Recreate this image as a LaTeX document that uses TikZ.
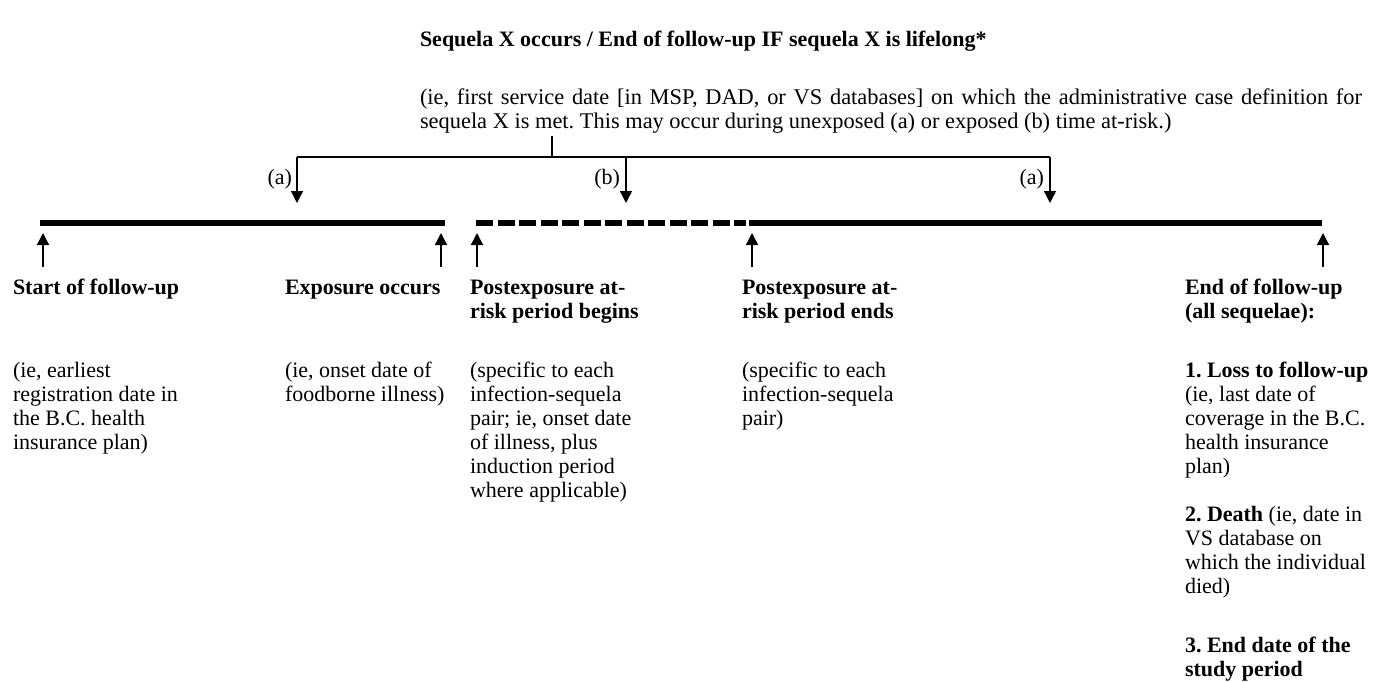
\documentclass[tikz,border=0pt]{standalone}
\usepackage{fontspec}
\setmainfont{Liberation Serif}
\usetikzlibrary{arrows.meta}
\frenchspacing
\begin{document}
\begin{tikzpicture}[x=1pt,y=-1pt,
  txt/.style={anchor=north west,yshift=16.8pt,inner sep=0pt,outer sep=0pt,align=left,font=\fontsize{22}{24}\selectfont},
  hd/.style={txt,font=\fontsize{22}{24}\selectfont\bfseries},
  lab/.style={anchor=base east,inner sep=0pt,outer sep=0pt,font=\fontsize{22}{24}\selectfont},
  thinline/.style={line width=1.4pt},
  arr/.style={thinline,-{Triangle[width=12pt,length=12pt]}},
  bar/.style={line width=5.5pt,line cap=butt}]
\useasboundingbox (0,0) rectangle (1378,681);
% top text
\node[hd] (title) at (420,46) {\strut Sequela X occurs / End of follow-up IF sequela X is lifelong*};
\node[txt,font=\fontsize{22.4}{24}\selectfont] (expl) at (420,104) {\strut\makebox[942pt][s]{(ie, first service date [in MSP, DAD, or VS databases] on which the administrative case definition for}\\sequela X is met. This may occur during unexposed (a) or exposed (b) time at-risk.)};
% branching
\coordinate (stemtop) at (552,136);
\coordinate (stembot) at (552,157);
\coordinate (brl) at (297,157);
\coordinate (brm) at (626,157);
\coordinate (brr) at (1050,157);
\coordinate (tipl) at (297,203);
\coordinate (tipm) at (626,203);
\coordinate (tipr) at (1050,203);
\draw[thinline] (stemtop) -- (stembot);
\draw[thinline] (brl) -- (brr);
\draw[arr] (brl) -- (tipl);
\draw[arr] (brm) -- (tipm);
\draw[arr] (brr) -- (tipr);
\node[lab] (la) at (292,184) {(a)};
\node[lab] (lb) at (620,184) {(b)};
\node[lab] (lc) at (1044,184) {(a)};
% timeline
\coordinate (t1s) at (40,223);
\coordinate (t1e) at (445,223);
\coordinate (t2s) at (476,223);
\coordinate (t2e) at (746,223);
\coordinate (t3s) at (749,223);
\coordinate (t3e) at (1322,223);
\draw[bar] (t1s) -- (t1e);
\draw[bar,dash pattern=on 17pt off 4.5pt] (t2s) -- (t2e);
\draw[bar] (t3s) -- (t3e);
% up arrows
\foreach \n/\x in {u1/43,u2/441,u3/477,u4/752,u5/1323}{
  \coordinate (\n b) at (\x,267);
  \coordinate (\n t) at (\x,233);
  \draw[arr] (\n b) -- (\n t);
}
% labels below
\node[hd] (h1) at (13,294) {\strut Start of follow-up};
\node[txt] (d1) at (13,377) {\strut(ie, earliest\\registration date in\\the B.C. health\\insurance plan)};
\node[hd] (h2) at (285,294) {\strut Exposure occurs};
\node[txt] (d2) at (285,377) {\strut(ie, onset date of\\foodborne illness)};
\node[hd] (h3) at (470,294) {\strut Postexposure at-\\risk period begins};
\node[txt] (d3) at (470,377) {\strut(specific to each\\infection-sequela\\pair; ie, onset date\\of illness, plus\\induction period\\where applicable)};
\node[hd] (h4) at (742,294) {\strut Postexposure at-\\risk period ends};
\node[txt] (d4) at (742,377) {\strut(specific to each\\infection-sequela\\pair)};
\node[hd] (h5) at (1185,294) {\strut End of follow-up\\(all sequelae):};
\node[txt] (d5) at (1185,377) {\strut\textbf{1. Loss to follow-up}\\(ie, last date of\\coverage in the B.C.\\health insurance\\plan)};
\node[txt] (d6) at (1185,521) {\strut\textbf{2. Death} (ie, date in\\VS database on\\which the individual\\died)};
\node[txt] (d7) at (1185,652) {\strut\textbf{3. End date of the}\\\textbf{study period}};
\end{tikzpicture}
\end{document}
